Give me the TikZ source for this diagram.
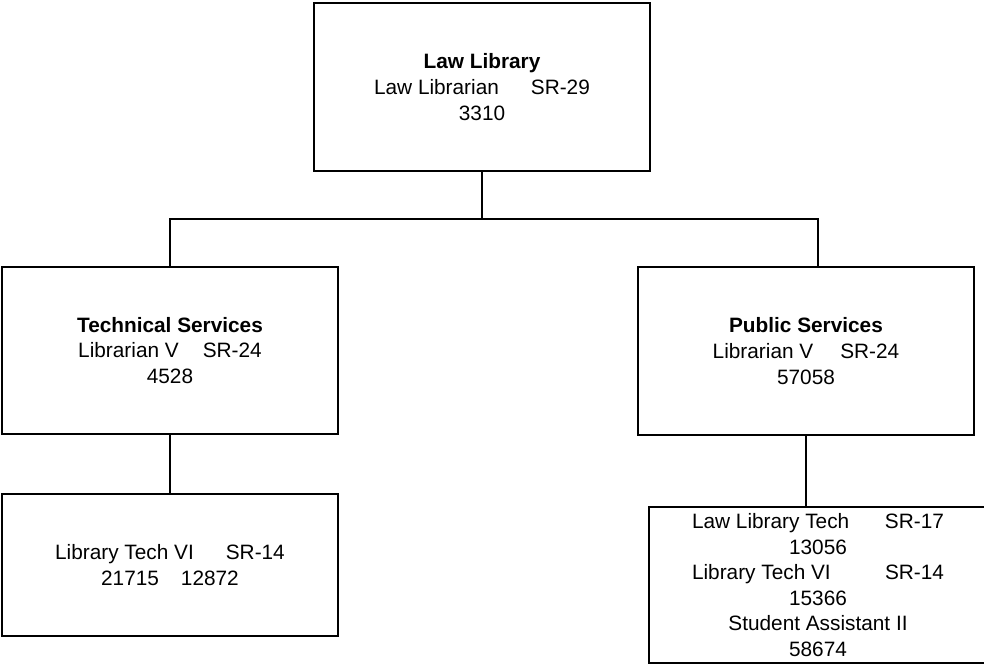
\documentclass[tikz,border=0pt]{standalone}
\usepackage{fontspec}
\setmainfont{Liberation Sans}
\usetikzlibrary{positioning}

\begin{document}
\begin{tikzpicture}[x=0.5pt,y=-0.5pt,
    unit/.style = {draw, line width=0.8pt, inner sep=0pt, outer sep=0pt,
                align=center, font=\fontsize{10.4}{12.8}\selectfont,
                minimum width=#1},
    unit/.default = 168pt,  % box width
    link/.style = {line width=0.8pt}
                    ]
    \useasboundingbox (0,0) rectangle (984,665);
    \def\busy{219}
    \def\tx{482}
    \def\lx{170}
    \def\rx{806}
    \node[unit, minimum height=84pt] at (\tx,87) (law)
        {\textbf{Law Library}\\Law Librarian\hspace{16pt}SR-29\\3310};
    \node[unit, minimum height=83.5pt] at (\lx,350.5) (tech)
        {\textbf{Technical Services}\\Librarian V\hspace{12pt}SR-24\\4528};
    \node[unit, minimum height=84pt] at (\rx,351) (pub)
        {\textbf{Public Services}\\Librarian V\hspace{13.5pt}SR-24\\57058};
    \node[unit, minimum height=71pt] at (\lx,565) (techstaff)
        {Library Tech VI\hspace{16pt}SR-14\\21715\hspace{11pt}12872};
    \node[unit=169pt, minimum height=78pt] at (818,585) (pubstaff)
        {\makebox[96.5pt][l]{Law Library Tech}SR-17\\13056\\
         \makebox[96.5pt][l]{Library Tech VI}SR-14\\15366\\
         Student Assistant II\\58674};
    \coordinate (bus) at (\tx,\busy);
    \coordinate (pubdrop) at (818,267);
    \draw[link] (law.south) -- (bus);
    \draw[link] (tech.north) |- (bus) -| (pubdrop);
    \draw[link] (tech.south) -- (techstaff.north);
    \draw[link] (pub.south) -- (pub.south |- pubstaff.north);
\end{tikzpicture}
\end{document}
